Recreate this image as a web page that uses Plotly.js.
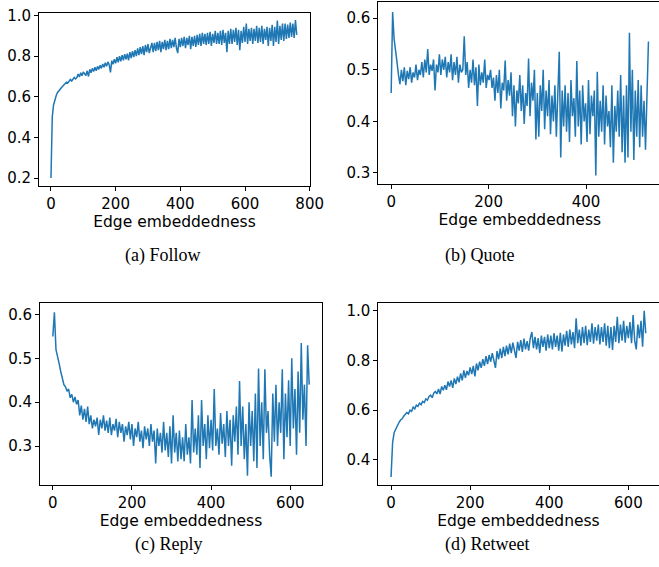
<!DOCTYPE html>
<html><head><meta charset="utf-8">
<script src="https://cdn.plot.ly/plotly-3.0.1.min.js"></script>
<style>html,body{margin:0;padding:0;overflow:hidden;background:#fff}#chart{width:662px;height:567px}</style>
</head><body><div id="chart"></div>
<script>
// ---- data (edge embeddedness -> value) ----
// Follow: x = 0, 4, 8, ... 760
const followY = [
0.20,0.50,0.56,0.59,0.605,0.62,0.63,0.64,0.645,0.652,
0.66,0.665,0.672,0.668,0.68,0.685,0.678,0.69,0.695,0.688,
0.695,0.712,0.698,0.718,0.704,0.722,0.712,0.705,0.728,0.70,
0.735,0.718,0.74,0.725,0.745,0.728,0.75,0.735,0.755,0.74,
0.762,0.745,0.768,0.75,0.772,0.758,0.72,0.778,0.76,0.785,
0.765,0.795,0.77,0.80,0.775,0.805,0.78,0.81,0.785,0.812,
0.78,0.82,0.79,0.825,0.795,0.83,0.80,0.838,0.805,0.845,
0.81,0.85,0.805,0.855,0.82,0.86,0.815,0.85,0.865,0.82,
0.865,0.825,0.87,0.83,0.875,0.82,0.87,0.835,0.88,0.83,
0.875,0.835,0.885,0.84,0.88,0.845,0.89,0.84,0.815,0.885,
0.845,0.89,0.85,0.895,0.84,0.89,0.855,0.90,0.835,0.895,
0.85,0.90,0.845,0.905,0.855,0.91,0.85,0.915,0.86,0.91,
0.855,0.915,0.86,0.92,0.85,0.91,0.865,0.925,0.86,0.915,
0.86,0.925,0.855,0.93,0.865,0.915,0.82,0.925,0.86,0.935,
0.86,0.93,0.87,0.94,0.855,0.93,0.83,0.925,0.865,0.945,
0.87,0.96,0.86,0.935,0.875,0.94,0.86,0.935,0.875,0.95,
0.865,0.94,0.87,0.95,0.86,0.935,0.88,0.945,0.85,0.94,
0.875,0.955,0.85,0.945,0.87,0.975,0.86,0.95,0.88,0.96,
0.875,0.96,0.885,0.955,0.89,0.965,0.895,0.96,0.89,0.978,
0.905];
// Quote: x = 0, 3, 6, ... 528
const quoteY = [
0.455,0.612,0.56,0.53,0.515,0.49,0.472,0.50,0.478,0.505,
0.47,0.498,0.482,0.505,0.475,0.495,0.485,0.51,0.48,0.50,
0.49,0.515,0.485,0.52,0.495,0.54,0.49,0.51,0.498,0.52,
0.46,0.51,0.495,0.53,0.49,0.52,0.50,0.525,0.485,0.515,
0.495,0.53,0.48,0.515,0.49,0.525,0.475,0.51,0.495,0.50,
0.565,0.49,0.515,0.465,0.50,0.475,0.52,0.47,0.505,0.43,
0.51,0.47,0.495,0.475,0.52,0.465,0.49,0.48,0.50,0.465,
0.485,0.44,0.49,0.455,0.50,0.425,0.475,0.46,0.518,0.44,
0.48,0.45,0.495,0.41,0.47,0.39,0.46,0.435,0.49,0.42,
0.47,0.395,0.455,0.43,0.522,0.41,0.475,0.44,0.50,0.365,
0.455,0.37,0.47,0.42,0.50,0.385,0.46,0.41,0.48,0.375,
0.45,0.40,0.47,0.37,0.44,0.535,0.33,0.46,0.39,0.47,
0.38,0.455,0.36,0.48,0.41,0.445,0.37,0.517,0.39,0.46,
0.355,0.47,0.40,0.435,0.36,0.48,0.375,0.45,0.41,0.46,
0.295,0.496,0.37,0.44,0.38,0.47,0.355,0.45,0.39,0.42,
0.35,0.47,0.32,0.43,0.38,0.46,0.37,0.49,0.34,0.45,
0.32,0.47,0.33,0.572,0.38,0.50,0.325,0.46,0.37,0.48,
0.35,0.47,0.37,0.44,0.345,0.47,0.555];
// Reply: x = 0, 4, 8, ... 648
const replyY = [
0.55,0.605,0.52,0.50,0.488,0.47,0.458,0.44,0.435,0.425,
0.43,0.41,0.418,0.40,0.412,0.395,0.405,0.37,0.392,0.36,
0.385,0.355,0.39,0.35,0.37,0.34,0.36,0.345,0.365,0.325,
0.36,0.34,0.37,0.335,0.358,0.33,0.365,0.325,0.35,0.335,
0.362,0.32,0.355,0.33,0.35,0.31,0.345,0.325,0.355,0.315,
0.35,0.30,0.34,0.32,0.355,0.31,0.335,0.295,0.345,0.315,
0.34,0.30,0.35,0.31,0.335,0.26,0.34,0.30,0.33,0.285,
0.355,0.29,0.33,0.275,0.345,0.26,0.37,0.285,0.33,0.265,
0.335,0.27,0.32,0.265,0.35,0.28,0.32,0.26,0.405,0.285,
0.34,0.28,0.37,0.25,0.405,0.30,0.35,0.27,0.37,0.295,
0.36,0.29,0.43,0.30,0.34,0.28,0.375,0.305,0.35,0.275,
0.38,0.30,0.36,0.255,0.37,0.31,0.39,0.28,0.448,0.30,
0.39,0.27,0.35,0.232,0.40,0.30,0.38,0.265,0.42,0.25,
0.477,0.30,0.40,0.27,0.475,0.33,0.38,0.28,0.23,0.42,
0.31,0.44,0.30,0.40,0.33,0.475,0.27,0.42,0.32,0.45,
0.30,0.50,0.34,0.43,0.28,0.47,0.33,0.535,0.36,0.44,
0.30,0.53,0.44];
// Retweet: x = 0, 4, 8, ... 644
const retweetY = [
0.33,0.47,0.51,0.525,0.54,0.55,0.56,0.565,0.575,0.582,
0.59,0.585,0.60,0.595,0.612,0.605,0.62,0.615,0.628,0.622,
0.635,0.63,0.645,0.64,0.655,0.66,0.65,0.668,0.675,0.665,
0.685,0.665,0.695,0.68,0.70,0.682,0.715,0.695,0.72,0.69,
0.728,0.705,0.735,0.712,0.748,0.72,0.76,0.73,0.758,0.74,
0.772,0.745,0.778,0.736,0.788,0.76,0.795,0.77,0.805,0.778,
0.818,0.785,0.822,0.795,0.83,0.80,0.77,0.838,0.805,0.848,
0.81,0.855,0.818,0.86,0.825,0.868,0.83,0.872,0.84,0.81,
0.875,0.84,0.882,0.835,0.888,0.845,0.878,0.84,0.89,0.915,
0.85,0.895,0.845,0.89,0.83,0.90,0.855,0.895,0.84,0.905,
0.85,0.90,0.845,0.91,0.855,0.90,0.84,0.912,0.836,0.905,
0.86,0.92,0.855,0.925,0.865,0.915,0.85,0.97,0.87,0.925,
0.86,0.935,0.87,0.94,0.862,0.925,0.875,0.95,0.868,0.935,
0.88,0.945,0.865,0.935,0.875,0.95,0.86,0.94,0.85,0.935,
0.842,0.94,0.875,0.976,0.87,0.945,0.88,0.96,0.872,0.94,
0.89,0.955,0.87,0.983,0.88,0.845,0.945,0.89,0.96,0.856,
1.0,0.91];
const steps = {follow: 4, quote: 3, reply: 4, retweet: 4};
const captions = ['(a) Follow', '(b) Quote', '(c) Reply', '(d) Retweet'];
const xTitle = 'Edge embeddedness';

// ---- layout geometry (pixels) ----
const W = 662, H = 567;
const boxes = [
  {l: 39,    r: 310,   t: 12.7,  b: 186},
  {l: 378.3, r: 661.3, t: 1.7,   b: 184.3},
  {l: 40,    r: 322,   t: 302.7, b: 485},
  {l: 378.3, r: 658.5, t: 302.7, b: 485}
];
const xr = [[-37, 801], [-26.4, 554.4], [-32.4, 680.4], [-32.2, 676.2]];
const yr = [[0.161, 1.014], [0.278, 0.632], [0.211, 0.627], [0.298, 1.033]];
const xt = [[0,200,400,600,800],[0,200,400],[0,200,400,600],[0,200,400,600]];
const yt = [[0.2,0.4,0.6,0.8,1.0],[0.3,0.4,0.5,0.6],[0.3,0.4,0.5,0.6],[0.4,0.6,0.8,1.0]];
const capPos = [[163, 255], [479, 255], [168, 544], [487, 544]];

const series = [followY, quoteY, replyY, retweetY];
const dxs = [steps.follow, steps.quote, steps.reply, steps.retweet];
const color = '#1f77b4';
const data = series.map((ys, i) => ({
  type: 'scatter', mode: 'lines', y: ys, x0: 0, dx: dxs[i],
  xaxis: i === 0 ? 'x' : 'x' + (i + 1), yaxis: i === 0 ? 'y' : 'y' + (i + 1),
  line: {color: color, width: 1.5}, hoverinfo: 'skip', showlegend: false
}));

const tickFont = {family: 'DejaVu Sans, sans-serif', size: 15, color: '#000'};
const layout = {
  width: W, height: H, margin: {l: 0, r: 0, t: 0, b: 0},
  paper_bgcolor: '#fff', plot_bgcolor: '#fff', showlegend: false,
  annotations: []
};
boxes.forEach((bx, i) => {
  const s = i === 0 ? '' : String(i + 1);
  const common = {showline: true, mirror: true, linecolor: '#000', linewidth: 1,
    ticks: 'outside', ticklen: 4, tickwidth: 1, tickcolor: '#000',
    showgrid: false, zeroline: false, tickfont: tickFont, fixedrange: true, automargin: false};
  layout['xaxis' + s] = Object.assign({}, common, {
    domain: [bx.l / W, bx.r / W], range: xr[i], tickmode: 'array', tickvals: xt[i],
    anchor: 'y' + s,
    title: {text: xTitle, font: {family: 'DejaVu Sans, sans-serif', size: 15.5, color: '#000'}, standoff: 3}
  });
  layout['yaxis' + s] = Object.assign({}, common, {
    domain: [1 - bx.b / H, 1 - bx.t / H], range: yr[i], tickmode: 'array', tickvals: yt[i],
    tickformat: '.1f', anchor: 'x' + s
  });
  layout.annotations.push({
    text: captions[i], xref: 'paper', yref: 'paper', x: capPos[i][0] / W, y: 1 - capPos[i][1] / H,
    xanchor: 'center', yanchor: 'middle', showarrow: false,
    font: {family: 'Liberation Serif, Times New Roman, serif', size: 18, color: '#000'}
  });
});

Plotly.newPlot('chart', data, layout, {staticPlot: true, displayModeBar: false});
</script>
</body></html>
